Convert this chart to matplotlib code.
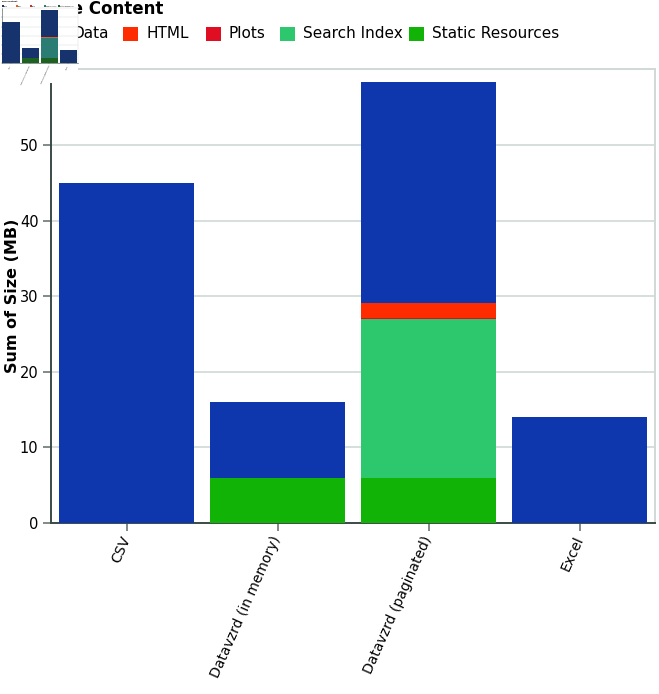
import matplotlib
matplotlib.use("Agg")
import matplotlib.pyplot as plt
from matplotlib.patches import Rectangle
import numpy as np

# data (MB per file type / content)
categories = ["CSV", "Datavzrd (in memory)", "Datavzrd (paginated)", "Excel"]
series = ["Data", "HTML", "Plots", "Search Index", "Static Resources"]
static_res = [0, 6, 6, 0]
search_idx = [0, 0, 21, 0]
plots = [0, 0, 0.1, 0]
html = [0, 0, 2, 0]
data = [45, 10, 29.2, 14]
yticks = [0, 10, 20, 30, 40, 50]

colors = {"Data": "#0e37ad", "HTML": "#ff2c00", "Plots": "#e00e22",
          "Search Index": "#2dc86e", "Static Resources": "#11b306"}
thumb_colors = {"Data": "#17336e", "HTML": "#e0602a", "Plots": "#c83030",
                "Search Index": "#2b7d74", "Static Resources": "#1e6222"}
# stacking order bottom -> top
stack = [("Static Resources", static_res), ("Search Index", search_idx),
         ("Plots", plots), ("HTML", html), ("Data", data)]

W, H = 659, 694
fig = plt.figure(figsize=(W / 100, H / 100), dpi=100)
grid_col = "#d0d9d6"
axis_col = "#3b4a47"


def px_rect(x0, y0, x1, y1):
    # figure fraction rect from pixel box (top-left origin)
    return [x0 / W, 1 - y1 / H, (x1 - x0) / W, (y1 - y0) / H]


def draw_bars(ax, cols):
    x = np.arange(len(categories))
    bottom = np.zeros(len(categories))
    for name, vals in stack:
        vals = np.array(vals, dtype=float)
        ax.bar(x, vals, width=0.9, bottom=bottom, color=cols[name],
               linewidth=0, zorder=3)
        bottom += vals
    ax.set_xlim(-0.5, len(categories) - 0.5)
    ax.set_ylim(0, 60)
    ax.set_xticks(x)


# main chart
ax = fig.add_axes(px_rect(51, 69.4, 655, 523))
draw_bars(ax, colors)
ax.set_yticks(yticks + [60])
ax.set_yticklabels([str(v) for v in yticks] + [""])
ax.yaxis.grid(True, color=grid_col, linewidth=1.2, zorder=0)
ax.set_axisbelow(True)
ax.set_xticklabels(categories, rotation=66, ha="right", va="center",
                   rotation_mode="anchor", fontsize=10)
ax.tick_params(axis="x", length=6, width=1.2, color="#6a7775", pad=4)
ax.tick_params(axis="y", length=6, width=1.2, color="#6a7775", pad=3,
               labelsize=10.5)
for s in ("left", "bottom"):
    ax.spines[s].set_color(axis_col)
    ax.spines[s].set_linewidth(1.4)
for s in ("top", "right"):
    ax.spines[s].set_color(grid_col)
    ax.spines[s].set_linewidth(1.4)
ax.set_ylabel("Sum of Size (MB)", fontsize=11.5, fontweight="bold")
ax.yaxis.set_label_coords(-31 / 604, 0.5)

# legend title + entries (left part runs off the canvas)
fig.text(163 / W, 1 - 9 / H, "File Content", fontsize=12, fontweight="bold",
         ha="right", va="center")
leg_x = [50, 123, 206, 280, 409]
for name, lx in zip(series, leg_x):
    fig.patches.append(Rectangle((lx / W, 1 - 41 / H), 15 / W, 14 / H,
                                 transform=fig.transFigure,
                                 facecolor=colors[name], edgecolor="none"))
    fig.text((lx + 23) / W, 1 - 34 / H, name, fontsize=11, ha="left",
             va="center")

# small thumbnail overlay in the top-left corner
bg = fig.add_axes(px_rect(0, 0, 78, 83))
bg.set_zorder(10)
bg.set_facecolor("white")
bg.set_xticks([])
bg.set_yticks([])
for s in bg.spines.values():
    s.set_visible(False)
bg.text(0.02, 0.985, "File Content", fontsize=1.6, fontweight="bold",
        ha="left", va="top", transform=bg.transAxes)
for i, name in enumerate(series):
    bx = 0.02 + i * 0.18
    bg.add_patch(Rectangle((bx, 0.91), 0.025, 0.025, transform=bg.transAxes,
                           facecolor=thumb_colors[name], edgecolor="none"))
    bg.text(bx + 0.035, 0.922, name, fontsize=1.2, ha="left", va="center",
            transform=bg.transAxes)

tx = fig.add_axes(px_rect(1.5, 8.4, 78, 63))
tx.set_zorder(11)
draw_bars(tx, thumb_colors)
tx.patch.set_alpha(0)
tx.set_yticks(yticks)
tx.yaxis.grid(True, color=grid_col, linewidth=0.3, zorder=0)
tx.set_axisbelow(True)
tx.set_yticklabels([str(v) for v in yticks], fontsize=1.3)
tx.set_xticklabels(categories, rotation=66, ha="right", va="center",
                   rotation_mode="anchor", fontsize=1.4)
tx.tick_params(length=1, width=0.3, pad=0.5, color="#6a7775")
for s in ("left", "bottom"):
    tx.spines[s].set_color(axis_col)
    tx.spines[s].set_linewidth(0.4)
for s in ("top", "right"):
    tx.spines[s].set_color(grid_col)
    tx.spines[s].set_linewidth(0.3)
tx.set_ylabel("Sum of Size (MB)", fontsize=1.3, fontweight="bold", labelpad=0.5)

fig.savefig("out.png", dpi=100)
